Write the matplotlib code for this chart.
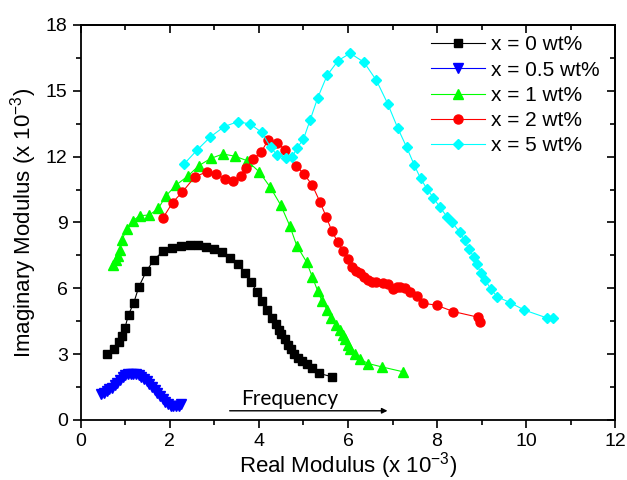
import matplotlib.pyplot as plt
from matplotlib.ticker import MultipleLocator, NullFormatter

plt.rcParams['font.family'] = ['Liberation Sans', 'DejaVu Sans']
plt.rcParams['mathtext.default'] = 'regular'

# x = 0 wt%
x0 = [0.58, 0.74, 0.85, 0.92, 0.99, 1.07, 1.19, 1.30, 1.47, 1.64, 1.84, 2.04, 2.24, 2.44,
      2.62, 2.80, 2.99, 3.18, 3.35, 3.52, 3.69, 3.82, 3.96, 4.07, 4.18, 4.29, 4.38, 4.45,
      4.50, 4.58, 4.65, 4.72, 4.79, 4.87, 4.96, 5.08, 5.19, 5.35, 5.65]
y0 = [2.99, 3.25, 3.55, 3.85, 4.20, 4.80, 5.35, 6.06, 6.78, 7.30, 7.68, 7.83, 7.92, 7.98,
      7.98, 7.90, 7.80, 7.65, 7.38, 7.10, 6.70, 6.27, 5.85, 5.40, 5.00, 4.65, 4.38, 4.12,
      3.90, 3.67, 3.44, 3.22, 3.02, 2.84, 2.69, 2.54, 2.39, 2.12, 1.97]

# x = 0.5 wt%
x05 = [0.45, 0.52, 0.58, 0.64, 0.70, 0.76, 0.82, 0.88, 0.94, 1.00, 1.06, 1.12, 1.18, 1.24,
       1.30, 1.36, 1.42, 1.48, 1.54, 1.60, 1.66, 1.72, 1.78, 1.84, 1.90, 1.96, 2.02, 2.08,
       2.14, 2.20, 2.26]
y05 = [1.20, 1.25, 1.32, 1.40, 1.48, 1.58, 1.70, 1.82, 1.94, 2.03, 2.08, 2.10, 2.10, 2.08,
       2.04, 1.97, 1.88, 1.77, 1.64, 1.50, 1.36, 1.22, 1.08, 0.95, 0.83, 0.73, 0.66, 0.62,
       0.62, 0.66, 0.72]

# x = 1 wt%
x1 = [0.72, 0.78, 0.83, 0.87, 0.92, 1.03, 1.17, 1.32, 1.54, 1.74, 1.91, 2.14, 2.40, 2.65,
      2.92, 3.19, 3.46, 3.73, 4.00, 4.25, 4.49, 4.69, 4.85, 5.07, 5.20, 5.32, 5.42, 5.53,
      5.62, 5.73, 5.82, 5.88, 5.94, 6.00, 6.04, 6.16, 6.27, 6.46, 6.76, 7.23]
y1 = [7.05, 7.28, 7.47, 7.73, 8.18, 8.71, 9.08, 9.31, 9.34, 9.64, 10.21, 10.71, 11.11, 11.59,
      11.92, 12.12, 12.02, 11.82, 11.32, 10.62, 9.79, 8.86, 7.94, 7.20, 6.51, 5.88, 5.40, 5.02,
      4.65, 4.35, 4.12, 3.89, 3.67, 3.44, 3.22, 2.99, 2.77, 2.57, 2.42, 2.20]

# x = 2 wt%
x2 = [1.84, 2.06, 2.28, 2.56, 2.83, 3.03, 3.24, 3.42, 3.59, 3.72, 3.87, 4.05, 4.20, 4.40,
      4.59, 4.83, 5.02, 5.20, 5.37, 5.51, 5.64, 5.77, 5.88, 5.99, 6.08, 6.17, 6.27, 6.36,
      6.45, 6.53, 6.64, 6.79, 6.91, 7.02, 7.10, 7.17, 7.28, 7.39, 7.54, 7.69, 7.99, 8.37,
      8.93, 8.97]
y2 = [9.19, 9.91, 10.39, 11.08, 11.31, 11.19, 10.99, 10.89, 11.11, 11.49, 11.89, 12.20, 12.74,
      12.62, 12.32, 11.59, 11.19, 10.69, 9.94, 9.26, 8.60, 8.11, 7.68, 7.35, 6.96, 6.80, 6.68,
      6.53, 6.38, 6.28, 6.30, 6.26, 6.20, 5.96, 6.05, 6.08, 6.00, 5.85, 5.65, 5.32, 5.23, 4.94,
      4.68, 4.45]

# x = 5 wt%
x5 = [2.32, 2.61, 2.91, 3.22, 3.52, 3.80, 4.06, 4.26, 4.40, 4.61, 4.75, 4.85, 5.00, 5.15,
      5.32, 5.53, 5.78, 6.05, 6.36, 6.64, 6.89, 7.12, 7.32, 7.49, 7.63, 7.78, 7.92, 8.06,
      8.22, 8.33, 8.51, 8.62, 8.71, 8.83, 8.90, 8.98, 9.08, 9.21, 9.35, 9.64, 9.96, 10.47,
      10.60]
y5 = [11.67, 12.30, 12.90, 13.37, 13.59, 13.49, 13.11, 12.44, 12.09, 11.94, 11.98, 12.38, 12.80,
      13.67, 14.68, 15.70, 16.38, 16.71, 16.30, 15.47, 14.42, 13.29, 12.42, 11.61, 11.01, 10.51,
      10.12, 9.71, 9.27, 9.04, 8.56, 8.18, 7.80, 7.43, 7.13, 6.68, 6.38, 5.97, 5.62, 5.35, 5.01,
      4.65, 4.65]

series = [
    (x0, y0, 'x = 0 wt%', 'black', 's', 6),
    (x05, y05, 'x = 0.5 wt%', 'blue', 'v', 7),
    (x1, y1, 'x = 1 wt%', '#00ff00', '^', 7),
    (x2, y2, 'x = 2 wt%', 'red', 'o', 6.5),
    (x5, y5, 'x = 5 wt%', 'cyan', 'D', 5.5),
]

fig = plt.figure(figsize=(6.27, 4.8), dpi=100)
ax = fig.add_axes([0.129, 0.125, 0.852, 0.823])

for xs, ys, lab, c, m, ms in series:
    ax.plot(xs, ys, color=c, lw=0.8, marker=m, ms=ms, mec=c, mfc=c, label=lab)

ax.set_xlim(0, 12)
ax.set_ylim(0, 18)
ax.xaxis.set_major_locator(MultipleLocator(2))
ax.xaxis.set_minor_locator(MultipleLocator(1))
ax.yaxis.set_major_locator(MultipleLocator(3))
ax.yaxis.set_minor_locator(MultipleLocator(1.5))
ax.tick_params(which='both', direction='out', labelsize=14, width=1.2)
ax.tick_params(which='major', length=6)
ax.tick_params(which='minor', length=3.5)
for s in ax.spines.values():
    s.set_linewidth(1.3)

# mirrored ticks on top and right, pointing in
top = ax.secondary_xaxis('top')
top.xaxis.set_major_locator(MultipleLocator(2))
top.xaxis.set_minor_locator(MultipleLocator(1))
top.xaxis.set_major_formatter(NullFormatter())
right = ax.secondary_yaxis('right')
right.yaxis.set_major_locator(MultipleLocator(3))
right.yaxis.set_minor_locator(MultipleLocator(1.5))
right.yaxis.set_major_formatter(NullFormatter())
for sec in (top, right):
    sec.tick_params(which='both', direction='in', width=1.2)
    sec.tick_params(which='major', length=6)
    sec.tick_params(which='minor', length=3.5)
    for s in sec.spines.values():
        s.set_linewidth(1.3)

ax.set_xlabel('Real Modulus (x 10$^{-3}$)', fontsize=16, labelpad=0)
ax.set_ylabel('Imaginary Modulus (x 10$^{-3}$)', fontsize=16, labelpad=5)

ax.legend(loc='upper right', frameon=False, fontsize=15, handlelength=2.6,
          handletextpad=0.25, labelspacing=0.3, borderaxespad=0.1,
          bbox_to_anchor=(0.99, 1.0))

ax.annotate('', xy=(6.95, 0.42), xytext=(3.28, 0.42),
            arrowprops=dict(arrowstyle='-|>', color='black', lw=1, mutation_scale=8))
ax.text(4.7, 0.95, 'Frequency', ha='center', va='center', fontsize=15,
        family=['Lato', 'DejaVu Sans'])

fig.savefig('out.png', dpi=100)
